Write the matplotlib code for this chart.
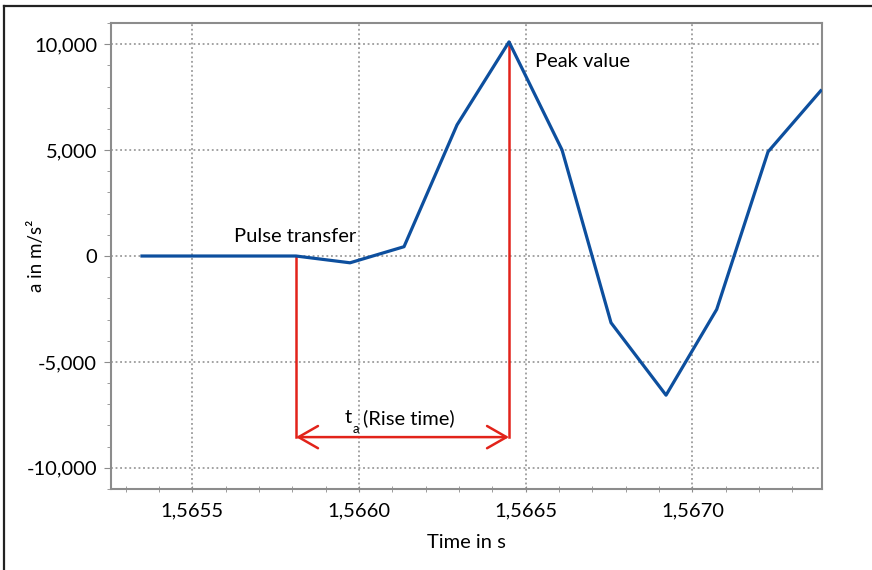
import matplotlib
matplotlib.use("Agg")
import matplotlib.pyplot as plt
from matplotlib.ticker import MultipleLocator, FuncFormatter
from matplotlib.lines import Line2D

# Acceleration signal samples
time_s = [1.565349, 1.565505, 1.565658, 1.565811, 1.565973, 1.566135, 1.566294,
          1.566450, 1.566609, 1.566756, 1.566921, 1.567073, 1.567227, 1.567385]
accel = [0, 0, 0, 0, -320, 440, 6190, 10110, 5010, -3150, -6570, -2520, 4920, 7800]

pulse_idx = 3
peak_idx = 7
arrow_y = -8550

plt.rcParams['font.family'] = ['Lato', 'DejaVu Sans']
fs = 14.5

fig = plt.figure(figsize=(8.72, 5.70), dpi=100)
ax = fig.add_axes([0.1273, 0.1421, 0.8154, 0.8175])

ax.plot(time_s, accel, color='#0d4f9e', linewidth=2.3, zorder=3)

# rise time markers
red = '#e2231a'
t0, t1 = time_s[pulse_idx], time_s[peak_idx]
ax.plot([t0, t0], [accel[pulse_idx], arrow_y], color=red, linewidth=1.8, zorder=2)
ax.plot([t1, t1], [accel[peak_idx], arrow_y], color=red, linewidth=1.8, zorder=2)
ax.annotate('', xy=(t0, arrow_y), xytext=(t1, arrow_y),
            arrowprops=dict(arrowstyle='<->,head_length=0.7,head_width=0.4',
                            color=red, linewidth=1.8, mutation_scale=20,
                            shrinkA=0, shrinkB=0))

ax.text(1.565625, 900, 'Pulse transfer', fontsize=fs, va='center', ha='left')
ax.text(1.566528, 9180, 'Peak value', fontsize=fs, va='center', ha='left')
ax.text(1.565958, -7640, 't', fontsize=fs, va='center', ha='left')
ax.text(1.565982, -8180, 'a', fontsize=9.5, va='center', ha='left')
ax.text(1.566012, -7640, '(Rise time)', fontsize=fs, va='center', ha='left')

ax.set_xlim(1.565256, 1.567389)
ax.set_ylim(-11000, 11000)

ax.xaxis.set_major_locator(MultipleLocator(0.0005))
ax.xaxis.set_minor_locator(MultipleLocator(0.0001))
ax.yaxis.set_major_locator(MultipleLocator(5000))
ax.yaxis.set_minor_locator(MultipleLocator(1000))
ax.xaxis.set_major_formatter(FuncFormatter(lambda v, p: f"{v:.4f}".replace('.', ',')))
ax.yaxis.set_major_formatter(FuncFormatter(lambda v, p: f"{v:,.0f}"))

ax.grid(True, which='major', linestyle=(0, (1.2, 1.8)), color='#8a8a8a', linewidth=1.1)
for s in ax.spines.values():
    s.set_color('#8c8c8c')
    s.set_linewidth(1.5)
ax.tick_params(which='both', colors='#8c8c8c', labelcolor='black', labelsize=fs)
ax.tick_params(axis='x', which='both', direction='inout', length=5)
ax.tick_params(axis='y', which='major', direction='out', length=5)
ax.tick_params(axis='y', which='minor', direction='out', length=3)
ax.tick_params(axis='x', pad=7)
ax.tick_params(axis='y', pad=5)

ax.set_xlabel('Time in s', fontsize=fs, labelpad=11)
ax.set_ylabel('a in m/s²', fontsize=13.5)
ax.yaxis.set_label_coords(-0.093, 0.5)

# frame around the figure
fig.add_artist(Line2D([0.005, 0.005], [0, 0.989], transform=fig.transFigure,
                      color='#222222', linewidth=1.6))
fig.add_artist(Line2D([0.005, 1.0], [0.989, 0.989], transform=fig.transFigure,
                      color='#222222', linewidth=1.6))

fig.savefig('out.png', dpi=100)
